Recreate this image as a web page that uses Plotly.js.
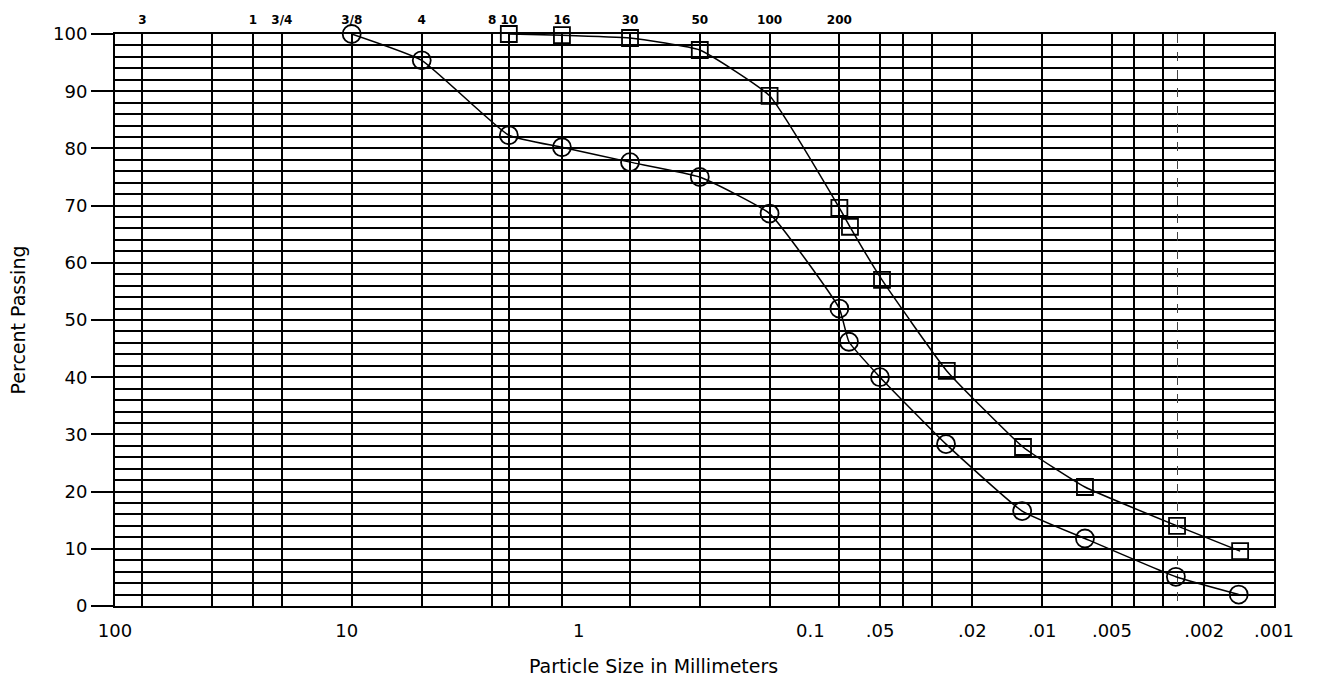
<!DOCTYPE html>
<html>
<head>
<meta charset="utf-8">
<script src="https://cdn.plot.ly/plotly-3.0.1.min.js"></script>
<style>
  html, body { margin: 0; padding: 0; background: #fff; }
  #chart { width: 1317px; height: 682px; }
</style>
</head>
<body>
<div id="chart"></div>
<script>
// Sample 1 (circles): particle size (mm) vs percent passing
const sample1Size = [9.525, 4.75, 2.0, 1.18, 0.6, 0.3, 0.15, 0.075, 0.0682, 0.0501, 0.0260, 0.0122, 0.00654, 0.00265, 0.00142];
const sample1Pass = [100, 95.4, 82.3, 80.2, 77.6, 75.0, 68.6, 52.0, 46.2, 40.0, 28.3, 16.6, 11.8, 5.1, 2.0];

// Sample 2 (squares)
const sample2Size = [2.0, 1.18, 0.6, 0.3, 0.15, 0.075, 0.0675, 0.0491, 0.0258, 0.0121, 0.00654, 0.00262, 0.00140];
const sample2Pass = [100, 99.8, 99.3, 97.2, 89.2, 69.6, 66.3, 57.0, 41.1, 27.8, 20.8, 14.0, 9.6];

// Sieve openings (mm) and their top labels
const sieveSizes = [76.2, 38.1, 25.4, 19.05, 9.525, 4.75, 2.36, 2.0, 1.18, 0.6, 0.3, 0.15, 0.075];
const sieveLabels = ['3', '', '1', '3/4', '3/8', '4', '8', '10', '16', '30', '50', '100', '200'];

// Hydrometer-range grid lines (mm)
const hydroGrid = [0.05, 0.04, 0.03, 0.02, 0.01, 0.005, 0.004, 0.003, 0.002];
const extraGrid = [0.0026];

// Bottom axis tick labels
const sizeTicks = [100, 10, 1, 0.1, 0.05, 0.02, 0.01, 0.005, 0.002, 0.001];
const sizeTickText = ['100', '10', '1', '0.1', '.05', '.02', '.01', '.005', '.002', '.001'];

const pctTicks = [0, 10, 20, 30, 40, 50, 60, 70, 80, 90, 100];

const FONT = 'DejaVu Sans, Liberation Sans, sans-serif';
const xRange = [Math.log10(100), Math.log10(0.001)];

const traces = [
  {
    x: sample1Size, y: sample1Pass, xaxis: 'x', yaxis: 'y',
    mode: 'lines+markers', type: 'scatter', cliponaxis: false,
    line: { color: '#000', width: 1.5, shape: 'spline', smoothing: 0.4 },
    marker: { symbol: 'circle-open', size: 18, color: '#000', line: { width: 1.8, color: '#000' } },
    showlegend: false
  },
  {
    x: sample2Size, y: sample2Pass, xaxis: 'x2', yaxis: 'y',
    mode: 'lines+markers', type: 'scatter', cliponaxis: false,
    line: { color: '#000', width: 1.5, shape: 'spline', smoothing: 0.4 },
    marker: { symbol: 'square-open', size: 16, color: '#000', line: { width: 1.8, color: '#000' } },
    showlegend: false
  },
  {
    x: extraGrid, y: [null], xaxis: 'x3', yaxis: 'y',
    mode: 'markers', type: 'scatter', hoverinfo: 'skip', showlegend: false
  }
];

const layout = {
  width: 1317, height: 682,
  margin: { l: 115, r: 43, t: 34, b: 76 },
  paper_bgcolor: '#fff', plot_bgcolor: '#fff',
  font: { family: FONT, color: '#000' },
  showlegend: false,
  xaxis: {
    type: 'log', range: xRange, autorange: false,
    tickmode: 'array', tickvals: sizeTicks, ticktext: sizeTickText,
    showgrid: false, zeroline: false, tickangle: 0,
    ticks: '', ticklabelstandoff: 7,
    tickfont: { size: 18, family: FONT },
    showline: true, linecolor: '#000', linewidth: 2, mirror: true
  },
  xaxis2: {
    type: 'log', range: xRange, autorange: false,
    overlaying: 'x', side: 'top', anchor: 'y',
    tickmode: 'array', tickvals: sieveSizes.concat(hydroGrid), ticktext: sieveLabels.concat(hydroGrid.map(() => '')),
    showgrid: true, gridcolor: '#000', gridwidth: 2, tickangle: 0,
    zeroline: false, ticks: '', ticklabelstandoff: 7,
    tickfont: { size: 12, family: FONT, weight: 'bold' },
    showline: false
  },
  xaxis3: {
    type: 'log', range: xRange, autorange: false,
    overlaying: 'x', side: 'top', anchor: 'y',
    tickmode: 'array', tickvals: extraGrid, ticktext: [''],
    showgrid: true, gridcolor: '#444', gridwidth: 1, griddash: 'dash',
    zeroline: false, ticks: '', showticklabels: false, showline: false
  },
  yaxis: {
    range: [0, 100], autorange: false,
    tickmode: 'array', tickvals: pctTicks,
    ticks: 'outside', ticklen: 22, tickwidth: 2, tickcolor: '#000',
    tickfont: { size: 18, family: FONT },
    showgrid: true, gridcolor: '#000', gridwidth: 2,
    minor: { dtick: 2, showgrid: true, gridcolor: '#000', gridwidth: 2, ticks: '' },
    zeroline: false,
    showline: true, linecolor: '#000', linewidth: 2, mirror: true,
    title: { text: 'Percent Passing', font: { size: 19, family: FONT }, standoff: 22 }
  },
  annotations: [
    {
      text: 'Particle Size in Millimeters',
      xref: 'paper', yref: 'paper', x: 0.465, y: -0.105,
      xanchor: 'center', yanchor: 'middle', showarrow: false,
      font: { size: 19, family: FONT }
    }
  ]
};

Plotly.newPlot('chart', traces, layout, { displayModeBar: false, staticPlot: true });
</script>
</body>
</html>
